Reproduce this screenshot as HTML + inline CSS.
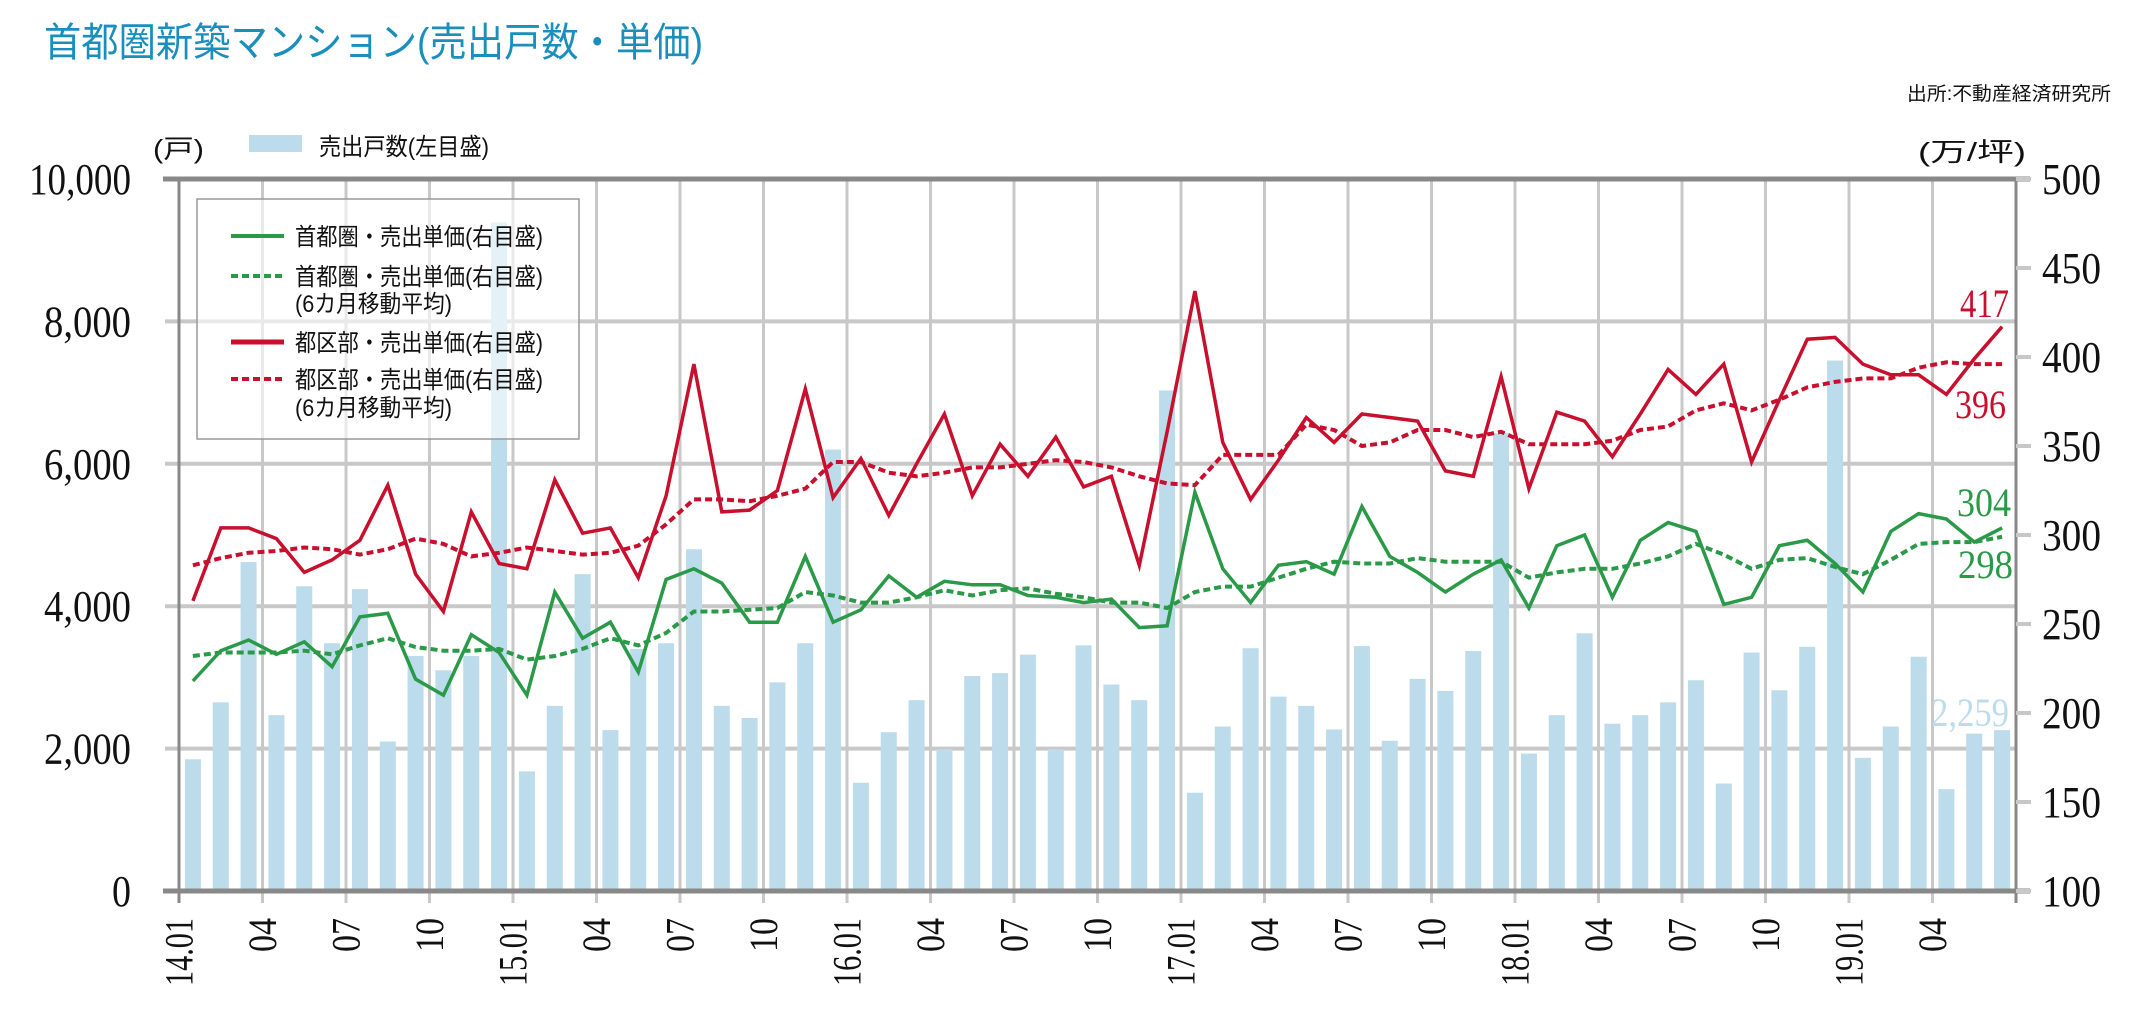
<!DOCTYPE html>
<html><head><meta charset="utf-8">
<style>
html,body{margin:0;padding:0;background:#fff;}
svg{display:block;}
.jp{font-family:"Liberation Sans","Noto Sans CJK JP",sans-serif;}
.num{font-family:"Liberation Serif",serif;}
</style></head>
<body>
<svg id="chart" width="2130" height="1026" viewBox="0 0 2130 1026" xmlns="http://www.w3.org/2000/svg">
<rect x="0" y="0" width="2130" height="1026" fill="#fff"/>
<text class="jp" x="44" y="56" font-size="40" fill="#1a8fbe" textLength="659" lengthAdjust="spacingAndGlyphs">首都圏新築マンション(売出戸数・単価)</text>
<text class="jp" x="1907" y="100" font-size="19" fill="#111" textLength="204" lengthAdjust="spacingAndGlyphs">出所:不動産経済研究所</text>
<text class="jp" x="153" y="158" font-size="26" fill="#111" textLength="51" lengthAdjust="spacingAndGlyphs">(戸)</text>
<rect x="249" y="135" width="53" height="17" fill="#bcdcec"/>
<text class="jp" x="319" y="155" font-size="24" fill="#111" textLength="170" lengthAdjust="spacingAndGlyphs">売出戸数(左目盛)</text>
<text class="jp" x="1918" y="161" font-size="26" fill="#111" textLength="108" lengthAdjust="spacingAndGlyphs">(万/坪)</text>
<g id="grid"></g>
<g id="bars"></g>
<g id="lines"></g>
<g id="axes"></g>
<g id="labels"></g>
<g id="legend">
<rect x="197" y="199" width="382" height="240" fill="rgba(255,255,255,0.6)" stroke="#999" stroke-width="1.5"/>
<line x1="231" y1="236" x2="284" y2="236" stroke="#2a9a48" stroke-width="4"/>
<text class="jp" x="295" y="245" font-size="24" fill="#111" textLength="248" lengthAdjust="spacingAndGlyphs">首都圏・売出単価(右目盛)</text>
<line x1="231" y1="276" x2="286" y2="276" stroke="#2a9a48" stroke-width="4" stroke-dasharray="7,4"/>
<text class="jp" x="295" y="285" font-size="24" fill="#111" textLength="248" lengthAdjust="spacingAndGlyphs">首都圏・売出単価(右目盛)</text>
<text class="jp" x="295" y="312" font-size="24" fill="#111" textLength="157" lengthAdjust="spacingAndGlyphs">(6カ月移動平均)</text>
<line x1="231" y1="342" x2="284" y2="342" stroke="#c8102e" stroke-width="5"/>
<text class="jp" x="295" y="351" font-size="24" fill="#111" textLength="248" lengthAdjust="spacingAndGlyphs">都区部・売出単価(右目盛)</text>
<line x1="231" y1="379" x2="286" y2="379" stroke="#c8102e" stroke-width="4" stroke-dasharray="7,4"/>
<text class="jp" x="295" y="388" font-size="24" fill="#111" textLength="248" lengthAdjust="spacingAndGlyphs">都区部・売出単価(右目盛)</text>
<text class="jp" x="295" y="416" font-size="24" fill="#111" textLength="157" lengthAdjust="spacingAndGlyphs">(6カ月移動平均)</text>
</g>
</svg>
<script>
const units = [1850,2650,4620,2470,4280,3480,4240,2100,3300,3100,3300,9390,
1680,2600,4450,2260,3400,3480,4800,2600,2430,2930,3480,6200,
1520,2230,2680,1990,3020,3060,3320,1990,3450,2900,2680,7030,
1380,2310,3410,2730,2600,2270,3440,2110,2980,2810,3370,6430,
1930,2470,3620,2350,2470,2650,2960,1510,3350,2820,3430,7450,
1870,2310,3290,1430,2210,2259];
const wardPrice = [263,304,304,298,279,286,297,328,278,257,313,284,
281,331,301,304,276,322,396,313,314,325,382,321,
343,311,340,368,322,351,333,355,327,333,283,358,
437,352,320,342,366,352,368,366,364,336,333,389,
326,369,364,344,368,393,379,396,341,376,410,411,
396,390,390,379,399,417];
const wardMA = [283,287,290,291,293,292,289,292,298,295,288,290,
293,291,289,290,294,306,320,320,319,322,326,341,
341,335,333,335,338,338,340,342,341,338,333,329,
328,345,345,345,362,359,350,352,359,359,355,358,
351,351,351,353,359,361,370,374,370,376,383,386,
388,388,394,397,396,396];
const metroPrice = [218,235,241,233,240,226,254,256,219,210,244,234,
210,268,242,251,223,275,281,273,251,251,288,251,
258,277,265,274,272,272,266,265,262,264,248,249,
324,281,262,283,285,278,316,288,279,268,278,286,
259,294,300,265,297,307,302,261,265,294,297,284,
268,302,312,309,296,304];
const metroMA = [232,234,234,234,235,233,238,242,237,235,235,236,
230,232,236,242,238,245,257,257,258,259,268,266,
262,262,265,269,266,269,270,267,265,262,262,259,
268,271,271,276,281,285,284,284,287,285,285,285,
276,279,281,281,284,288,295,289,281,286,287,282,
278,286,295,296,296,299];
const leftTicks = ["0","2,000","4,000","6,000","8,000","10,000"];
const leftTickVals = [0,2000,4000,6000,8000,10000];
const rightTicks = ["100","150","200","250","300","350","400","450","500"];
const rightTickVals = [100,150,200,250,300,350,400,450,500];
const xLabels = ["14.01","04","07","10","15.01","04","07","10","16.01","04","07","10","17.01","04","07","10","18.01","04","07","10","19.01","04"];

const NS="http://www.w3.org/2000/svg";
const L=179,R=2016,T=179,B=891,N=66;
const W=R-L, MW=W/N;
function xOf(i){return L+(i+0.5)*MW;}
function yL(v){return B-v/10000*(B-T);}
function yR(v){return B-(v-100)/400*(B-T);}
function mk(tag,attrs,parent){const e=document.createElementNS(NS,tag);for(const k in attrs)e.setAttribute(k,attrs[k]);parent.appendChild(e);return e;}
const grid=document.getElementById('grid'),bars=document.getElementById('bars'),lines=document.getElementById('lines'),axes=document.getElementById('axes'),labels=document.getElementById('labels');

// horizontal gridlines
for(let k=1;k<leftTickVals.length-1;k++){
  const y=yL(leftTickVals[k]);
  const g=mk('line',{x1:165,x2:R,y1:y,y2:y,stroke:'#c8c8c8','stroke-width':4},grid);
  
  
}
// vertical gridlines
for(let k=0;k<xLabels.length;k++){
  const x=L+k*3*MW;
  if(k>0){const g=mk('line',{x1:x,x2:x,y1:T,y2:B,stroke:'#c8c8c8','stroke-width':3},grid);
  
  }
  const t=mk('line',{x1:x,x2:x,y1:B,y2:903,stroke:'#c8c8c8','stroke-width':3},grid);
  
  
}
// bars
for(let i=0;i<units.length;i++){
  const y=yL(units[i]);
  const r=mk('rect',{x:xOf(i)-8,y:y,width:16,height:B-y,fill:'#bcdcec'},bars);
  
  
}
function path(arr,color,w,dash,name){
  let d='';
  for(let i=0;i<arr.length;i++){d+=(i?'L':'M')+xOf(i).toFixed(1)+','+yR(arr[i]).toFixed(1);}
  const a={d:d,fill:'none',stroke:color,'stroke-width':w,'stroke-linejoin':'miter'};
  if(dash)a['stroke-dasharray']=dash;
  const p=mk('path',a,lines);
  
  
}
path(metroMA,'#2a9a48',4,'7,4','line-metro-ma');
path(wardMA,'#c8102e',4,'7,4','line-ward-ma');
path(metroPrice,'#2a9a48',3.5,null,'line-metro-price');
path(wardPrice,'#c8102e',3.5,null,'line-ward-price');

// axes frame
const fr=[['top-axis',L-16,T,R+14,T],['bottom-axis',L-16,B,R+14,B]];
fr.forEach(f=>{const l=mk('line',{x1:f[1],y1:f[2],x2:f[3],y2:f[4],stroke:'#888','stroke-width':5},axes);
  
  });
const la=mk('line',{x1:L,y1:T,x2:L,y2:B+12,stroke:'#888','stroke-width':3},axes);


const ra=mk('line',{x1:R,y1:T,x2:R,y2:B+12,stroke:'#888','stroke-width':3},axes);


for(let k=0;k<rightTickVals.length;k++){
  const y=yR(rightTickVals[k]);
  const t=mk('line',{x1:R,x2:2031,y1:y,y2:y,stroke:'#c8c8c8','stroke-width':4},axes);
  
  
}
// left labels
for(let k=0;k<leftTicks.length;k++){
  const s=leftTicks[k];
  const len=s.length>=6?102:(s.length===1?19:87);
  const t=mk('text',{x:131,y:yL(leftTickVals[k])+15,'text-anchor':'end','font-size':44,class:'num',fill:'#111',textLength:len,lengthAdjust:'spacingAndGlyphs'},labels);
  t.textContent=s;
  
  
}
for(let k=0;k<rightTicks.length;k++){
  const t=mk('text',{x:2042,y:yR(rightTickVals[k])+15,'font-size':44,class:'num',fill:'#111',textLength:59,lengthAdjust:'spacingAndGlyphs'},labels);
  t.textContent=rightTicks[k];
  
  
}
for(let k=0;k<xLabels.length;k++){
  const x=L+k*3*MW+13.5;
  const s=xLabels[k];
  const t=mk('text',{x:0,y:0,transform:'translate('+x.toFixed(1)+',918) rotate(-90)','text-anchor':'end','font-size':40,class:'num',fill:'#111',textLength:s.length>2?68:34,lengthAdjust:'spacingAndGlyphs'},labels);
  t.textContent=s;
  
  
}
// value annotations
const ann=[['417',1960,317,49,'#c8102e','label-ward-last'],['396',1955,418,51,'#c8102e','label-ward-ma-last'],['304',1957,516,54,'#2a9a48','label-metro-last'],['298',1958,578,55,'#2a9a48','label-metro-ma-last'],['2,259',1931,726,78,'#bcdcec','label-units-last']];
ann.forEach(a=>{const t=mk('text',{x:a[1],y:a[2],'font-size':40,class:'num',fill:a[4],textLength:a[3],lengthAdjust:'spacingAndGlyphs'},labels);
  t.textContent=a[0];
  
  });
</script>
</body></html>
